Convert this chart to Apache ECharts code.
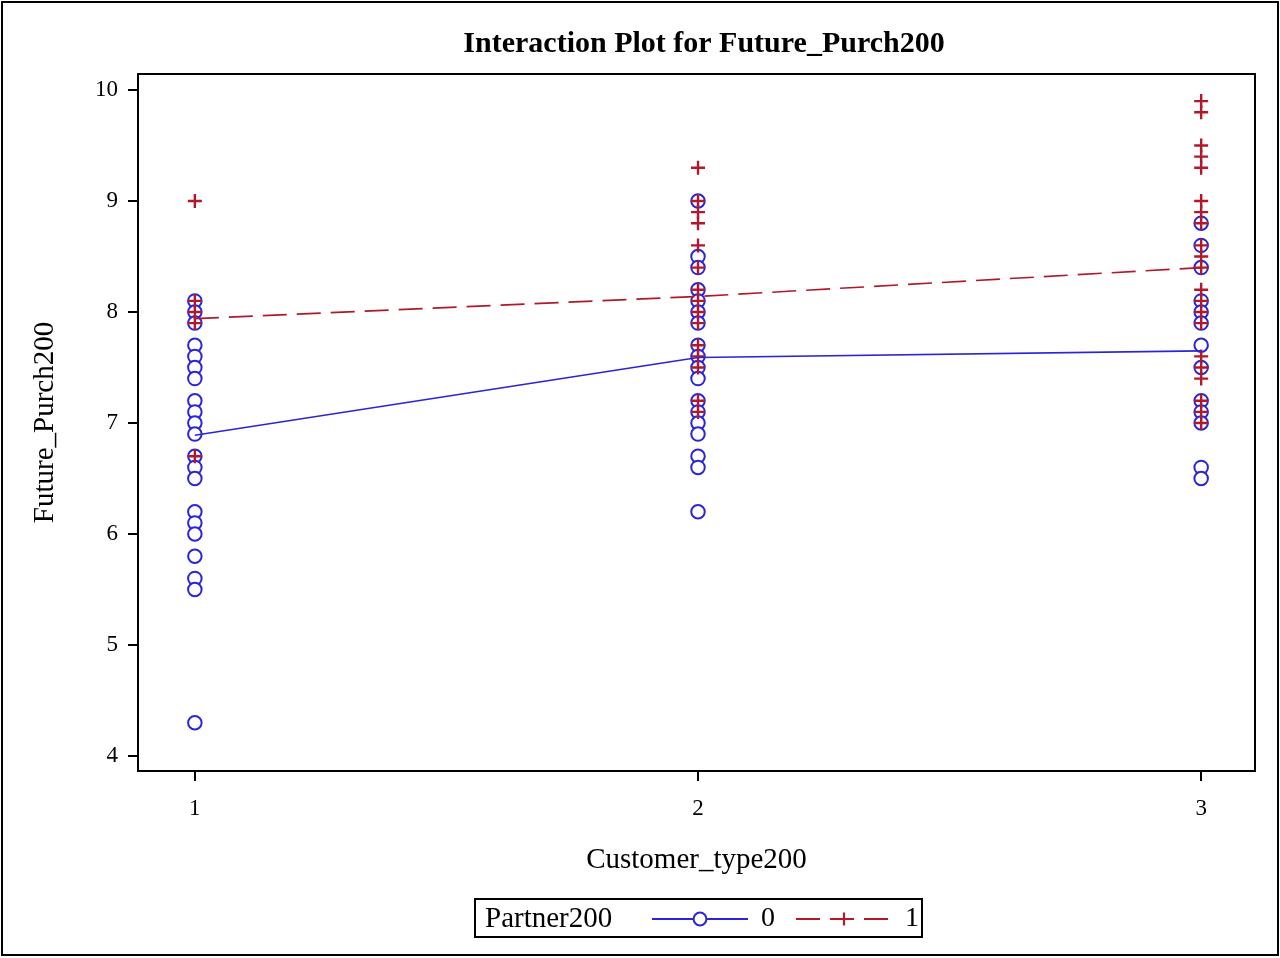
<!DOCTYPE html>
<html>
<head>
<meta charset="utf-8">
<script src="https://cdn.jsdelivr.net/npm/echarts@6/dist/echarts.min.js"></script>
<style>html,body{margin:0;padding:0;background:#fff}#c{width:1280px;height:958px}</style>
</head>
<body>
<div id="c"></div>
<script>
// Categories (Customer_type200) and tick labels
const xCategories = [1, 2, 3];
const yTicks = [4, 5, 6, 7, 8, 9, 10];

// Partner200 = 0 observations, per customer type
const p0Type1 = [8.1, 8.0, 7.9, 7.7, 7.6, 7.5, 7.4, 7.2, 7.1, 7.0, 6.9, 6.7, 6.6, 6.5, 6.2, 6.1, 6.0, 5.8, 5.6, 5.5, 4.3];
const p0Type2 = [9.0, 8.5, 8.4, 8.2, 8.1, 8.0, 7.9, 7.7, 7.6, 7.5, 7.4, 7.2, 7.1, 7.0, 6.9, 6.7, 6.6, 6.2];
const p0Type3 = [8.8, 8.6, 8.4, 8.1, 8.0, 7.9, 7.7, 7.5, 7.2, 7.1, 7.0, 6.6, 6.5];

// Partner200 = 1 observations, per customer type
const p1Type1 = [9.0, 8.1, 8.0, 7.9, 6.7];
const p1Type2 = [9.3, 9.0, 8.9, 8.8, 8.6, 8.4, 8.2, 8.1, 8.0, 7.9, 7.7, 7.6, 7.5, 7.2, 7.1];
const p1Type3 = [9.9, 9.8, 9.5, 9.4, 9.3, 9.0, 8.9, 8.8, 8.6, 8.5, 8.4, 8.2, 8.1, 8.0, 7.9, 7.6, 7.5, 7.4, 7.2, 7.1, 7.0];

// Mean lines
const mean0 = [6.89, 7.59, 7.65];
const mean1 = [7.94, 8.14, 8.40];

const BLUE = '#2A25D9';
const RED = '#B2182B';
const FONT = '"Liberation Serif", "DejaVu Serif", serif';
const PLUS = 'path://M5.8,0 H8.2 V5.8 H14 V8.2 H8.2 V14 H5.8 V8.2 H0 V5.8 H5.8 Z';

function pairs(groups) {
  const out = [];
  groups.forEach((vals, i) => vals.forEach(v => out.push([xCategories[i], v])));
  return out;
}
const scatter0 = pairs([p0Type1, p0Type2, p0Type3]);
const scatter1 = pairs([p1Type1, p1Type2, p1Type3]);
const line0 = xCategories.map((x, i) => [x, mean0[i]]);
const line1 = xCategories.map((x, i) => [x, mean1[i]]);

const chart = echarts.init(document.getElementById('c'), null, {renderer: 'canvas'});
chart.setOption({
  animation: false,
  backgroundColor: '#fff',
  title: {
    text: 'Interaction Plot for Future_Purch200',
    left: 699, top: 24, textAlign: 'center',
    textStyle: {fontFamily: FONT, fontWeight: 'bold', fontSize: 30, color: '#000'}
  },
  grid: {
    left: 138, right: 25, top: 74, bottom: 187,
    show: true, borderColor: '#000', borderWidth: 2, backgroundColor: 'transparent'
  },
  xAxis: {
    type: 'value', min: 0.887, max: 3.107,
    name: 'Customer_type200', nameLocation: 'middle', nameGap: 75,
    nameTextStyle: {fontFamily: FONT, fontSize: 29, color: '#000'},
    axisLine: {show: false},
    axisTick: {show: true, length: 10, lineStyle: {color: '#000', width: 2}, customValues: xCategories},
    axisLabel: {fontFamily: FONT, fontSize: 23, color: '#000', margin: 26, customValues: xCategories},
    splitLine: {show: false}
  },
  yAxis: {
    type: 'value', min: 3.865, max: 10.144,
    name: 'Future_Purch200', nameLocation: 'middle', nameGap: 78, nameRotate: 90,
    nameTextStyle: {fontFamily: FONT, fontSize: 29, color: '#000'},
    axisLine: {show: false},
    axisTick: {show: true, length: 10, lineStyle: {color: '#000', width: 2}, customValues: yTicks},
    axisLabel: {fontFamily: FONT, fontSize: 23, color: '#000', margin: 20, customValues: yTicks},
    splitLine: {show: false}
  },
  legend: {
    data: ['0', '1'],
    left: 651, top: 905, padding: 0,
    itemWidth: 96, itemHeight: 16, itemGap: 20,
    textStyle: {fontFamily: FONT, fontSize: 28, color: '#000', padding: [0, 0, 0, 8]}
  },
  graphic: [
    {type: 'rect', shape: {x: 2, y: 2, width: 1276, height: 953}, style: {fill: 'none', stroke: '#000', lineWidth: 2}, silent: true},
    {type: 'rect', shape: {x: 475, y: 899, width: 447, height: 38}, style: {fill: 'none', stroke: '#000', lineWidth: 2}, silent: true},
    {type: 'text', x: 485, y: 919, style: {text: 'Partner200', font: '29px ' + FONT, fill: '#000', verticalAlign: 'middle'}, silent: true}
  ],
  series: [
    {
      name: 'p0pts', type: 'scatter', data: scatter0,
      symbol: 'emptyCircle', symbolSize: 13.5,
      itemStyle: {color: BLUE, borderColor: BLUE, borderWidth: 2.2, opacity: 1}
    },
    {
      name: 'p1pts', type: 'scatter', data: scatter1,
      symbol: PLUS, symbolSize: 14,
      itemStyle: {color: RED, opacity: 1}
    },
    {
      name: '0', type: 'line', data: line0,
      symbol: 'emptyCircle', showSymbol: false, symbolSize: 13,
      itemStyle: {color: BLUE},
      lineStyle: {color: BLUE, width: 1.6}
    },
    {
      name: '1', type: 'line', data: line1,
      symbol: PLUS, showSymbol: false, symbolSize: 14,
      itemStyle: {color: RED},
      lineStyle: {color: RED, width: 1.6, type: [24, 10]}
    }
  ]
});
</script>
</body>
</html>
